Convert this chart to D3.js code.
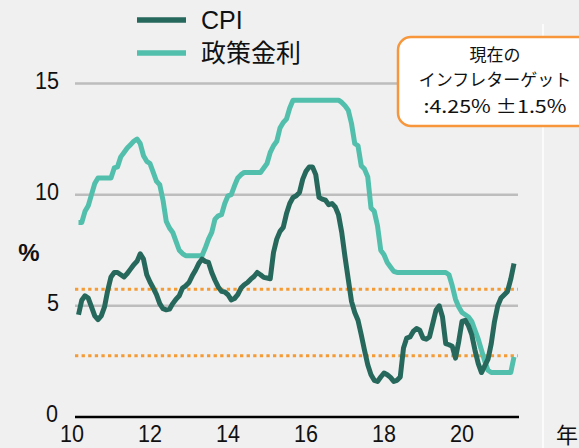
<!DOCTYPE html>
<html>
<head>
<meta charset="utf-8">
<script src="https://cdn.jsdelivr.net/npm/d3@7"></script>
<style>
  html, body { margin: 0; padding: 0; background: #f0f0f0; }
  svg { display: block; }
  text { font-family: "Liberation Sans", Arial, "Noto Sans CJK JP", sans-serif; fill: #111; }
  .jp { font-family: "Noto Sans CJK JP", "Liberation Sans", sans-serif; }
</style>
</head>
<body>
<svg id="chart" width="579" height="448"></svg>
<script>
// monthly series, first point = Feb 2010 (x in years since 2000)
const startYear = 10, startMonth = 2;

const policyRate = [
  8.75, 8.75, 9.25, 9.5, 10.0, 10.5, 10.75, 10.75, 10.75, 10.75,
  10.75, 11.2, 11.25, 11.7, 11.9, 12.1, 12.25, 12.4, 12.5, 12.3,
  11.75, 11.5, 11.4, 11.0, 10.6, 10.45, 9.75, 8.8, 8.5, 8.3,
  7.9, 7.5, 7.35, 7.25, 7.25, 7.25, 7.25, 7.25, 7.25, 7.6,
  8.0, 8.3, 8.9, 9.05, 9.1, 9.6, 9.95, 10.0, 10.4, 10.75,
  10.9, 11.0, 11.0, 11.0, 11.0, 11.0, 11.0, 11.2, 11.4, 11.9,
  12.2, 12.4, 13.0, 13.25, 13.4, 13.9, 14.25, 14.25, 14.25, 14.25,
  14.25, 14.25, 14.25, 14.25, 14.25, 14.25, 14.25, 14.25, 14.25, 14.25,
  14.25, 14.15, 14.0, 13.8, 13.2, 12.3, 12.2, 11.3, 11.15, 10.8,
  9.4, 9.25, 8.6, 7.5, 7.3, 6.95, 6.75, 6.55, 6.5, 6.5,
  6.5, 6.5, 6.5, 6.5, 6.5, 6.5, 6.5, 6.5, 6.5, 6.5,
  6.5, 6.5, 6.5, 6.5, 6.4, 5.9, 5.3, 4.95, 4.7, 4.6,
  4.5, 4.3, 3.9, 3.5, 3.0, 2.5, 2.1, 2.0, 2.0, 2.0,
  2.0, 2.0, 2.0, 2.0, 2.7
];

const cpi = [
  4.6, 5.25, 5.45, 5.35, 4.95, 4.55, 4.38, 4.55, 4.95, 5.7,
  6.3, 6.5, 6.5, 6.4, 6.3, 6.45, 6.65, 6.85, 7.0, 7.34,
  7.1, 6.4, 6.07, 5.8, 5.5, 5.1, 4.87, 4.82, 4.85, 5.1,
  5.3, 5.45, 5.8, 5.9, 6.05, 6.35, 6.6, 6.9, 7.1, 7.0,
  6.95, 6.5, 6.15, 5.85, 5.65, 5.62, 5.5, 5.27, 5.33, 5.5,
  5.8, 5.95, 6.05, 6.2, 6.32, 6.5, 6.4, 6.28, 6.25, 6.22,
  7.4, 8.0, 8.35, 8.53, 9.15, 9.6, 9.87, 9.95, 10.1, 10.7,
  11.05, 11.25, 11.25, 10.9, 9.88, 9.8, 9.75, 9.55, 9.6, 9.45,
  9.1, 8.3, 7.2, 6.2, 5.2, 4.7, 4.35, 3.7, 3.0, 2.35,
  1.9, 1.65, 1.6, 1.8, 1.98, 1.9, 1.78, 1.6, 1.65, 1.8,
  3.1, 3.55, 3.6, 3.85, 3.98, 3.9, 3.55, 3.5, 3.6, 4.2,
  4.8, 5.0, 4.5, 3.3, 3.25, 3.18, 2.65, 3.4, 4.3, 4.35,
  4.1, 3.7, 3.0, 2.4, 2.0, 2.3, 2.6, 3.3, 4.3, 5.0,
  5.35, 5.5, 5.65, 6.2, 6.9
];

const yTicks = [0, 5, 10, 15];
const gridTicks = [5, 10, 15];
const xTicks = [10, 12, 14, 16, 18, 20];
const targetBand = [5.75, 2.75]; // 4.25% ± 1.5%
const seriesNames = ["CPI", "政策金利"];
const seriesColors = ["#26695c", "#52bfac"];
const noteLines = ["現在の", "インフレターゲット", ":4.25% ±1.5%"];

const svg = d3.select("#chart");

var x = d3.scaleLinear().domain([10, 21.5]).range([72, 520.5]);
var y = d3.scaleLinear().domain([0, 15]).range([417, 83.5]);
var plotLeft = 75, plotRight = 519;

svg.append("rect").attr("width", 579).attr("height", 448).attr("fill", "#f0f0f0");

// thin white separator on the right
svg.append("line")
  .attr("x1", 543).attr("x2", 543).attr("y1", 24).attr("y2", 448)
  .attr("stroke", "#ffffff").attr("stroke-width", 1.5);

// grid lines
svg.selectAll("line.grid")
  .data(gridTicks)
  .enter()
  .append("line")
  .attr("class", "grid")
  .attr("x1", plotLeft).attr("x2", plotRight - 1)
  .attr("y1", d => y(d)).attr("y2", d => y(d))
  .attr("stroke", "#bdbdbd")
  .attr("stroke-width", 2.5);

// inflation target band
svg.selectAll("line.band")
  .data(targetBand)
  .enter()
  .append("line")
  .attr("class", "band")
  .attr("x1", plotLeft).attr("x2", plotRight - 1)
  .attr("y1", d => y(d)).attr("y2", d => y(d))
  .attr("stroke", "#f59b35")
  .attr("stroke-width", 3)
  .attr("stroke-dasharray", "3.3,3.3");

// zero axis
svg.append("line")
  .attr("x1", plotLeft).attr("x2", plotRight)
  .attr("y1", y(0)).attr("y2", y(0))
  .attr("stroke", "#000").attr("stroke-width", 2.5);

// y labels
svg.selectAll("text.ylab")
  .data(yTicks)
  .enter()
  .append("text")
  .attr("class", "ylab")
  .attr("x", d => d == 0 ? 58 : 59)
  .attr("y", d => y(d) + 5)
  .attr("text-anchor", "end")
  .attr("font-size", 23)
  .attr("textLength", d => String(d).length * 12)
  .attr("lengthAdjust", "spacingAndGlyphs")
  .text(d => d);

// x labels
svg.selectAll("text.xlab")
  .data(xTicks)
  .enter()
  .append("text")
  .attr("class", "xlab")
  .attr("x", d => x(d))
  .attr("y", 442)
  .attr("text-anchor", "middle")
  .attr("font-size", 24)
  .attr("textLength", 24)
  .attr("lengthAdjust", "spacingAndGlyphs")
  .text(d => d);

svg.append("text")
  .attr("x", 29).attr("y", 261)
  .attr("text-anchor", "middle")
  .attr("font-size", 24)
  .attr("font-weight", "bold")
  .text("%");

svg.append("text")
  .attr("class", "jp")
  .attr("x", 556).attr("y", 443)
  .attr("font-size", 22)
  .text("年");

// series lines
var line = d3.line()
  .x((d, i) => x(startYear + (startMonth + i) / 12))
  .y(d => y(d));

[policyRate, cpi].forEach(function (series, k) {
  svg.append("path")
    .datum(series)
    .attr("d", line)
    .attr("fill", "none")
    .attr("stroke", k == 0 ? seriesColors[1] : seriesColors[0])
    .attr("stroke-width", 5)
    .attr("stroke-linejoin", "round");
});

// legend
var legend = svg.selectAll("g.legend")
  .data(seriesNames)
  .enter()
  .append("g")
  .attr("class", "legend")
  .attr("transform", (d, i) => "translate(0," + (20 + i * 33) + ")");

legend.append("line")
  .attr("x1", 137).attr("x2", 186)
  .attr("stroke", (d, i) => seriesColors[i])
  .attr("stroke-width", 5.5);

legend.append("text")
  .attr("class", (d, i) => i == 1 ? "jp" : null)
  .attr("x", 201)
  .attr("y", 9)
  .attr("font-size", 25)
  .text(d => d);

// target note box
svg.append("rect")
  .attr("x", 398).attr("y", 37)
  .attr("width", 200).attr("height", 89)
  .attr("rx", 13)
  .attr("fill", "#ffffff")
  .attr("stroke", "#f7963a")
  .attr("stroke-width", 2.5);

var noteY = [61, 86, 113];
svg.selectAll("text.note")
  .data(noteLines)
  .enter()
  .append("text")
  .attr("class", "note jp")
  .attr("x", 495)
  .attr("y", (d, i) => noteY[i])
  .attr("text-anchor", "middle")
  .attr("font-size", (d, i) => i == 2 ? 18 : 17)
  .attr("textLength", (d, i) => i == 2 ? 143 : null)
  .attr("lengthAdjust", "spacingAndGlyphs")
  .text(d => d);
</script>
</body>
</html>
